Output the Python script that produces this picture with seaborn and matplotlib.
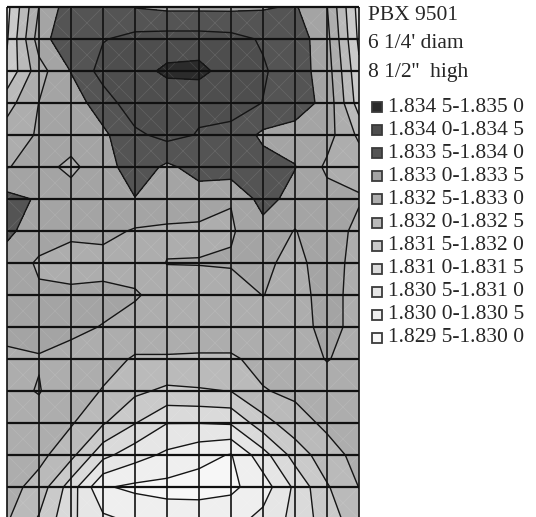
import numpy as np
import matplotlib
matplotlib.use("Agg")
import matplotlib.pyplot as plt
from matplotlib.patches import Rectangle
from matplotlib.collections import LineCollection
import seaborn as sns

sns.set_theme(style="white")
plt.rcParams["font.family"] = ["Liberation Serif", "DejaVu Serif"]

# ============================================
# Data
# ============================================

# contour levels, g/cm3
levels = [1.8295, 1.8300, 1.8305, 1.8310, 1.8315, 1.8320,
          1.8325, 1.8330, 1.8335, 1.8340, 1.8345, 1.8350]

# fill colour of each band, lowest band first
band_colors = ["#f7f7f7", "#efefef", "#e6e6e6", "#dadada", "#cacaca", "#bababa",
               "#adadad", "#a4a4a4", "#545454", "#4e4e4e", "#2b2b2b"]

# legend, highest band first
legend_labels = ["1.834 5-1.835 0", "1.834 0-1.834 5", "1.833 5-1.834 0",
                 "1.833 0-1.833 5", "1.832 5-1.833 0", "1.832 0-1.832 5",
                 "1.831 5-1.832 0", "1.831 0-1.831 5", "1.830 5-1.831 0",
                 "1.830 0-1.830 5", "1.829 5-1.830 0"]

info_lines = ["PBX 9501", "6 1/4' diam", "8 1/2''  high"]

# density read at the grid nodes, top row first, 12 columns left -> right
row_00 = [1.83135, 1.83301, 1.83380, 1.83385, 1.83348, 1.83340, 1.83340, 1.83340, 1.83345, 1.83355, 1.83302, 1.83130]
row_01 = [1.83145, 1.83325, 1.83395, 1.83397, 1.83415, 1.83420, 1.83420, 1.83415, 1.83395, 1.83380, 1.83315, 1.83140]
row_02 = [1.83160, 1.83280, 1.83352, 1.83420, 1.83430, 1.83460, 1.83465, 1.83425, 1.83405, 1.83375, 1.83325, 1.83160]
row_03 = [1.83230, 1.83301, 1.83325, 1.83375, 1.83430, 1.83415, 1.83410, 1.83420, 1.83399, 1.83375, 1.83335, 1.83175]
row_04 = [1.83275, 1.83305, 1.83320, 1.83340, 1.83390, 1.83415, 1.83397, 1.83385, 1.83340, 1.83330, 1.83320, 1.83240]
row_05 = [1.83298, 1.83315, 1.83290, 1.83325, 1.83380, 1.83340, 1.83370, 1.83380, 1.83370, 1.83352, 1.83290, 1.83280]
row_06 = [1.83365, 1.83345, 1.83320, 1.83325, 1.83348, 1.83325, 1.83325, 1.83302, 1.83370, 1.83330, 1.83320, 1.83305]
row_07 = [1.83360, 1.83325, 1.83310, 1.83315, 1.83295, 1.83293, 1.83290, 1.83295, 1.83330, 1.83298, 1.83330, 1.83285]
row_08 = [1.83330, 1.83293, 1.83280, 1.83280, 1.83280, 1.83301, 1.83302, 1.83305, 1.83310, 1.83285, 1.83325, 1.83280]
row_09 = [1.83320, 1.83307, 1.83310, 1.83315, 1.83305, 1.83280, 1.83275, 1.83275, 1.83301, 1.83280, 1.83320, 1.83280]
row_10 = [1.83315, 1.83310, 1.83310, 1.83298, 1.83280, 1.83280, 1.83280, 1.83280, 1.83280, 1.83280, 1.83315, 1.83285]
row_11 = [1.83290, 1.83298, 1.83285, 1.83268, 1.83245, 1.83245, 1.83243, 1.83243, 1.83265, 1.83280, 1.83302, 1.83285]
row_12 = [1.83290, 1.83302, 1.83275, 1.83247, 1.83210, 1.83190, 1.83195, 1.83201, 1.83247, 1.83260, 1.83280, 1.83280]
row_13 = [1.83285, 1.83285, 1.83255, 1.83205, 1.83152, 1.83101, 1.83101, 1.83105, 1.83180, 1.83230, 1.83260, 1.83275]
row_14 = [1.83280, 1.83265, 1.83215, 1.83115, 1.83070, 1.83040, 1.83015, 1.82997, 1.83080, 1.83170, 1.83230, 1.83265]
row_15 = [1.83270, 1.83230, 1.83125, 1.83005, 1.82990, 1.82985, 1.82980, 1.82990, 1.83025, 1.83110, 1.83195, 1.83251]
row_16 = [1.83255, 1.83195, 1.83110, 1.83060, 1.83040, 1.83025, 1.83030, 1.83030, 1.83065, 1.83115, 1.83175, 1.83230]

density = np.array([row_00, row_01, row_02, row_03, row_04, row_05, row_06, row_07, row_08,
                    row_09, row_10, row_11, row_12, row_13, row_14, row_15, row_16])

# ============================================
# Plot
# ============================================

W, H = 536, 517
fig = plt.figure(figsize=(W / 100, H / 100), dpi=100)
ax = fig.add_axes([7 / W, 1 - 519 / H, 352 / W, 512 / H])

n_rows, n_cols = density.shape
xs = np.arange(n_cols)
ys = np.arange(n_rows)

ax.contourf(xs, ys, density, levels=levels, colors=band_colors)

# faint cell diagonals
diag = []
for i in range(n_cols - 1):
    for j in range(n_rows - 1):
        diag.append([(i, j), (i + 1, j + 1)])
        diag.append([(i + 1, j), (i, j + 1)])
ax.add_collection(LineCollection(diag, colors="white", linewidths=0.6, alpha=0.1))

ax.contour(xs, ys, density, levels=levels, colors="#151515", linewidths=1.0)

ax.vlines(xs, 0, n_rows - 1, colors="#111111", linewidth=1.2, clip_on=False)
ax.hlines(ys, 0, n_cols - 1, colors="#111111", linewidth=1.6, clip_on=False)

ax.set_xlim(0, n_cols - 1)
ax.set_ylim(n_rows - 1, 0)
ax.set_axis_off()

# ============================================
# Legend
# ============================================

for k, line in enumerate(info_lines):
    fig.text(368 / W, 1 - (15 + 29 * k) / H, line, fontsize=15.5, va="center", ha="left")

for k, (lab, col) in enumerate(zip(legend_labels, band_colors[::-1])):
    yc = 107 + 23.1 * k
    fig.patches.append(Rectangle((372 / W, 1 - (yc + 5) / H), 10 / W, 10 / H,
                                 transform=fig.transFigure, facecolor=col,
                                 edgecolor="#3a3a3a", linewidth=1.3))
    fig.text(388 / W, 1 - yc / H, lab, fontsize=15.5, va="center", ha="left")

fig.savefig("out.png", dpi=100)
